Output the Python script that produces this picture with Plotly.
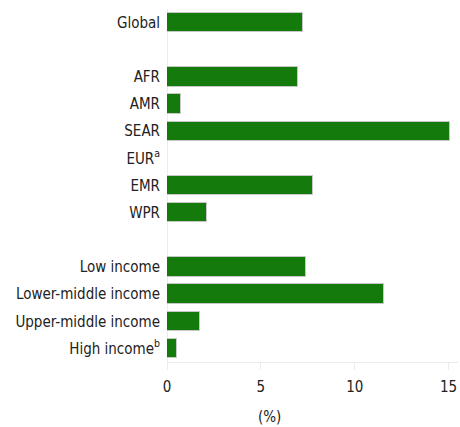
import plotly.graph_objects as go

# rows top to bottom; empty strings are spacer rows
categories = ["Global", "", "AFR", "AMR", "SEAR", "EUR<sup>a</sup>", "EMR", "WPR", "",
              "Low income", "Lower-middle income", "Upper-middle income", "High income<sup>b</sup>"]
values = [7.25, None, 7.0, 0.75, 15.05, None, 7.8, 2.15, None, 7.4, 11.55, 1.75, 0.55]
x_ticks = [0, 5, 10, 15]

rows = list(range(len(categories)))
label_rows = [i for i, c in enumerate(categories) if c]
label_text = [categories[i] for i in label_rows]

fig = go.Figure()
fig.add_trace(go.Bar(
    x=values, y=rows, orientation="h",
    width=0.71,
    marker=dict(color="#137a0b", line=dict(color="#c8c8c8", width=1)),
    hoverinfo="skip",
))

font_family = "DejaVu Sans Condensed, DejaVu Sans, sans-serif"

fig.update_layout(
    width=460, height=427,
    margin=dict(l=167, r=2, t=9, b=65, autoexpand=False),
    plot_bgcolor="white", paper_bgcolor="white",
    showlegend=False,
    font=dict(family=font_family, size=15, color="#222222"),
    bargap=0,
)
fig.update_yaxes(
    tickvals=label_rows, ticktext=label_text,
    range=[12.5, -0.5],
    showgrid=False, zeroline=False,
    ticks="", ticklabelstandoff=6,
    showline=False, automargin=False,
)
fig.update_xaxes(
    range=[0, 15.5],
    tickvals=x_ticks,
    showgrid=False,
    zeroline=True, zerolinecolor="#ececec", zerolinewidth=1,
    showline=True, linecolor="#ececec", linewidth=1,
    ticks="outside", ticklen=7, tickcolor="#ececec",
    ticklabelstandoff=4,
    automargin=False,
)
fig.add_annotation(
    text="(%)", xref="paper", yref="paper",
    x=(269 - 167) / 291, y=-0.155,
    showarrow=False, xanchor="center", yanchor="middle",
    font=dict(size=15),
)

# drop the default page margin so the 460x427 figure fills the window
fig.write_html("out.html",
               config={"displayModeBar": False},
               post_script="document.body.style.margin='0';document.body.style.overflow='hidden';")
